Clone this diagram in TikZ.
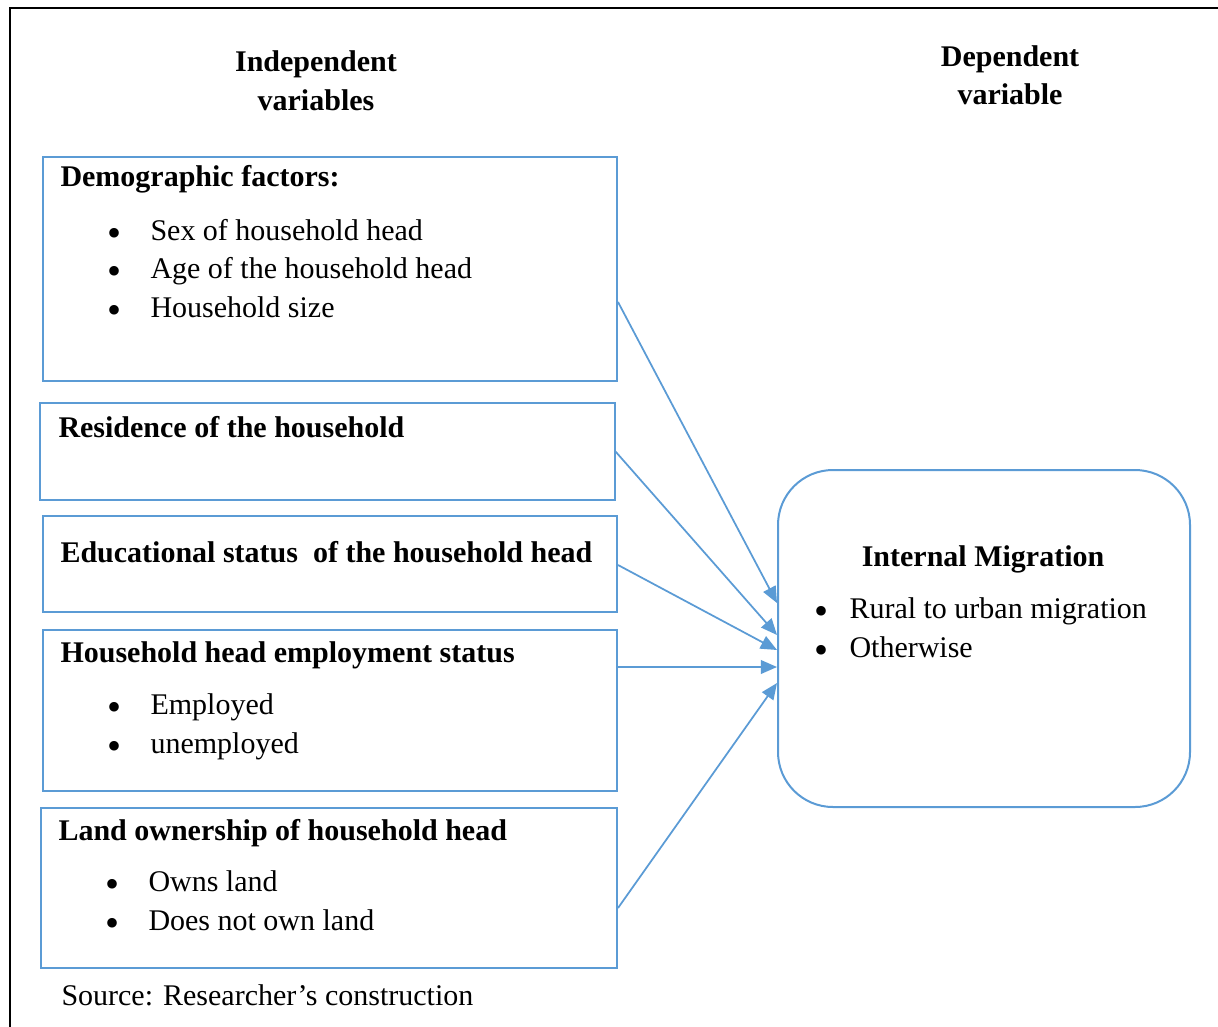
\documentclass[tikz,border=0pt]{standalone}
\usepackage{fontspec}
\setmainfont{Liberation Serif}
\usetikzlibrary{shapes,arrows.meta,positioning}

\definecolor{boxblue}{HTML}{5B9BD5}
\newcommand{\bul}[1][17.2pt]{\makebox[#1][l]{\smash{\raisebox{-2.6pt}{\fontsize{16pt}{16pt}\selectfont\textbullet}}}}

\tikzset{
  varbox/.style={draw=boxblue, line width=0.8pt, rectangle, inner sep=0pt, minimum width=229.6pt},
  link/.style={draw=boxblue, line width=0.7pt, -{Triangle[length=6.5pt,width=5.5pt]}},
  head/.style={anchor=base west, inner sep=0pt, font=\fontsize{12pt}{14pt}\selectfont\bfseries},
  item/.style={anchor=base west, inner sep=0pt, font=\fontsize{12pt}{14pt}\selectfont},
  title/.style={anchor=base, inner sep=0pt, font=\fontsize{12pt}{14pt}\selectfont\bfseries}
}

\begin{document}
\begin{tikzpicture}[x=0.4pt,y=-0.4pt]
\useasboundingbox (0,0) rectangle (1218,1026);
\draw[line width=1.1pt] (10,1040) -- (10,8) -- (1230,8);

% column titles
\node[title] (indep1) at (316,72) {Independent};
\node[title] (indep2) at (316,110) {variables};
\node[title] (dep1) at (1010,67) {Dependent};
\node[title] (dep2) at (1010,105) {variable};

% independent variable boxes
\node[varbox, minimum height=89.6pt] (demo) at (330,269) {};
\node[varbox, minimum height=38.8pt] (resid) at (327.5,451.5) {};
\node[varbox, minimum height=38.4pt] (educ) at (330,564) {};
\node[varbox, minimum height=64.4pt] (empl) at (330,710.5) {};
\node[varbox, minimum width=230.4pt, minimum height=64pt] (land) at (329,888) {};

\node[head] (demo-h) at (60,187) {Demographic factors:};
\node[item] (demo-1) at (107,240) {\bul Sex of household head};
\node[item] (demo-2) at (107,278) {\bul Age of the household head};
\node[item] (demo-3) at (107,317) {\bul Household size};

\node[head] (resid-h) at (58,437) {Residence of the household};

\node[head] (educ-h) at (60,562) {Educational status\ \ of the household head};

\node[head] (empl-h) at (60,662) {Household head employment status};
\node[item] (empl-1) at (107,714) {\bul Employed};
\node[item] (empl-2) at (107,753) {\bul unemployed};

\node[head] (land-h) at (58,840) {Land ownership of household head};
\node[item] (land-1) at (105,891) {\bul Owns land};
\node[item] (land-2) at (105,930) {\bul Does not own land};

% dependent variable
\node[draw=boxblue, line width=0.8pt, rectangle, rounded corners=22pt, inner sep=0pt,
      minimum width=164.8pt, minimum height=134.8pt] (mig) at (984,638.5) {};
\node[title] (mig-h) at (983,566) {Internal Migration};
\node[item] (mig-1) at (814,618) {\bul[14pt]Rural to urban migration};
\node[item] (mig-2) at (814,657) {\bul[14pt]Otherwise};

% arrows
\draw[link] ([yshift=-13.2pt]demo.east) -- ([yshift=14.2pt]mig.west);
\draw[link] (resid.east) -- ([yshift=1.4pt]mig.west);
\draw[link] ([yshift=-0.4pt]educ.east) -- ([yshift=-4.6pt]mig.west);
\draw[link] ([yshift=17.4pt]empl.east) -- ([yshift=-11.4pt]mig.west);
\draw[link] ([yshift=-8pt]land.east) -- ([yshift=-17.8pt]mig.west);

\node[item] (src) at (61,1005) {Source: Researcher’s construction};
\end{tikzpicture}
\end{document}
